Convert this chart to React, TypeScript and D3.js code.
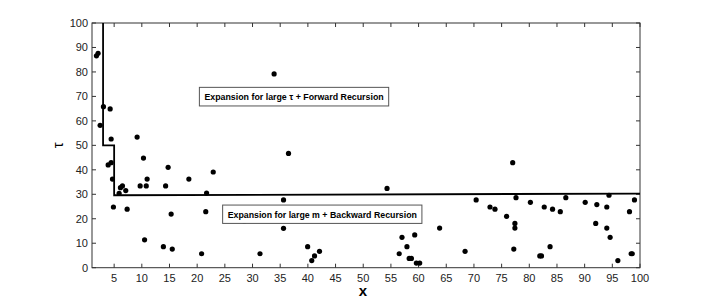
import React from "react";
import * as d3 from "d3";

const W = 708;
const H = 302;

const xs: number[] = [
  1.8, 2.1, 3.07, 4.28, 2.47, 4.46, 9.15,
  3.92, 4.46, 4.7, 4.87, 5.9, 6.14, 6.5, 7.1, 7.35, 9.7, 10.3, 10.8, 10.96, 10.5,
  14.3, 13.9, 14.75, 15.3, 15.5, 18.5, 20.8, 21.55, 21.7, 22.9,
  33.9, 36.5, 28.5, 31.35, 35.6, 35.6, 39.96, 40.7, 41.2, 42.1,
  54.3, 56.5, 57.0, 57.9, 59.3, 58.3, 58.7, 59.6, 60.2,
  63.8, 68.4, 70.4, 72.9, 73.8, 75.9, 77.0, 77.6, 77.4, 77.4, 77.2,
  80.2, 82.7, 81.9, 82.2, 83.75, 84.2, 85.6, 86.6, 90.1, 92.2, 92.0,
  94.0, 94.0, 94.4, 94.6, 96.0, 98.1, 98.4, 98.6, 99.0,
];
const taus: number[] = [
  86.6, 87.6, 65.8, 64.9, 58.2, 52.6, 53.4,
  42.0, 42.9, 36.2, 24.8, 30.4, 32.7, 33.4, 31.5, 23.9, 33.4, 44.8, 33.4, 36.2, 11.4,
  33.4, 8.6, 41.0, 21.9, 7.6, 36.2, 5.7, 22.9, 30.5, 39.1,
  79.2, 46.7, 19.1, 5.7, 27.7, 16.1, 8.6, 2.9, 4.8, 6.7,
  32.4, 5.7, 12.4, 8.6, 13.4, 3.8, 3.8, 1.9, 1.9,
  16.2, 6.7, 27.7, 24.8, 23.9, 21.0, 42.9, 28.6, 18.1, 16.2, 7.6,
  26.7, 24.8, 4.8, 4.8, 8.6, 23.9, 22.9, 28.6, 26.7, 25.8, 18.1,
  24.8, 16.2, 29.6, 12.4, 2.9, 22.9, 5.7, 5.7, 27.7,
];

const boundaryX: number[] = [3, 3, 5, 5, 100];
const boundaryY: number[] = [100, 50, 50, 29.6, 30.3];

const xTicks: number[] = [5, 10, 15, 20, 25, 30, 35, 40, 45, 50, 55, 60, 65, 70, 75, 80, 85, 90, 95, 100];
const yTicks: number[] = [0, 10, 20, 30, 40, 50, 60, 70, 80, 90, 100];

const labelTexts: string[] = [
  "Expansion for large \u03c4 + Forward Recursion",
  "Expansion for large m + Backward Recursion",
];
// box corners in data coordinates: [x0, x1, yTop, yBottom]
const labelBoxes: number[][] = [
  [20.4, 54.6, 73.7, 66.1],
  [24.6, 60.6, 25.6, 18.1],
];

export default function App() {
  const left = 92, right = 640, top = 23, bottom = 267.7;
  const x = d3.scaleLinear().domain([1, 100]).range([left, right]);
  const y = d3.scaleLinear().domain([0, 100]).range([bottom, top]);
  const line = d3
    .line<number>()
    .x((_, i) => x(boundaryX[i]))
    .y((_, i) => y(boundaryY[i]));
  const font = "'Liberation Sans', Arial, Helvetica, sans-serif";
  const tl = 4;
  return (
    <svg width={W} height={H} style={{ position: "absolute", left: 0, top: 0, background: "#fff" }}>
      <rect x={0} y={0} width={W} height={H} fill="#fff" />
      {xTicks.map((t) => (
        <g key={"xt" + t}>
          <line x1={x(t)} x2={x(t)} y1={bottom} y2={bottom - tl} stroke="#333" strokeWidth={1} />
          <line x1={x(t)} x2={x(t)} y1={top} y2={top + tl} stroke="#333" strokeWidth={1} />
          <text x={x(t)} y={bottom + 14} textAnchor="middle" fontFamily={font} fontSize={11} fill="#222">
            {t}
          </text>
        </g>
      ))}
      {yTicks.map((t) => (
        <g key={"yt" + t}>
          <line x1={left} x2={left + tl} y1={y(t)} y2={y(t)} stroke="#333" strokeWidth={1} />
          <line x1={right} x2={right - tl} y1={y(t)} y2={y(t)} stroke="#333" strokeWidth={1} />
          <text x={left - 4} y={y(t) + 4} textAnchor="end" fontFamily={font} fontSize={11} fill="#222">
            {t}
          </text>
        </g>
      ))}
      <rect x={left} y={top} width={right - left} height={bottom - top} fill="none" stroke="#333" strokeWidth={1} />
      <path d={line(boundaryX) || ""} fill="none" stroke="#000" strokeWidth={1.8} />
      {xs.map((v, i) => (
        <circle key={"p" + i} cx={x(v)} cy={y(taus[i])} r={2.6} fill="#000" />
      ))}
      {labelBoxes.map((b, i) => {
        const bw = x(b[1]) - x(b[0]);
        return (
          <g key={"lb" + i}>
            <rect
              x={x(b[0])}
              y={y(b[2])}
              width={bw}
              height={y(b[3]) - y(b[2])}
              fill="#fff"
              stroke="#555"
              strokeWidth={1}
            />
            <text
              x={(x(b[0]) + x(b[1])) / 2}
              y={(y(b[2]) + y(b[3])) / 2 + 3.3}
              textAnchor="middle"
              fontFamily={font}
              fontWeight="bold"
              fontSize={9.2}
              textLength={bw - 10}
              lengthAdjust="spacingAndGlyphs"
              fill="#000"
            >
              {labelTexts[i]}
            </text>
          </g>
        );
      })}
      <text x={(left + right) / 2 - 3} y={296} textAnchor="middle" fontFamily={font} fontWeight="bold" fontSize={15} fill="#000">
        x
      </text>
      <text
        transform={`translate(63, ${(top + bottom) / 2}) rotate(-90)`}
        textAnchor="middle"
        fontFamily={font}
        fontSize={15}
        fill="#000"
      >
        {"\u03c4"}
      </text>
    </svg>
  );
}
